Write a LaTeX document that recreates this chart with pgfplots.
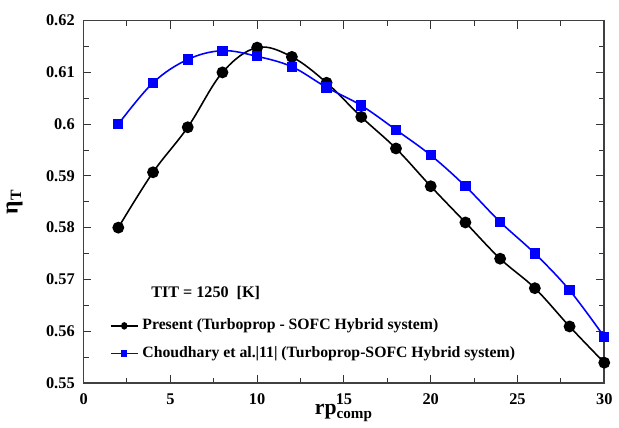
\documentclass[border=0pt]{standalone}
\usepackage{pgfplots}
\pgfplotsset{compat=1.18}
\usepackage{fontspec}
\setmainfont{Liberation Serif}

\pgfplotstableread{
x y
2 0.5800
4 0.5907
6 0.5994
8 0.6100
10 0.6148
12 0.6130
14 0.6080
16 0.6014
18 0.5953
20 0.5880
22 0.5810
24 0.5740
26 0.5683
28 0.5609
30 0.5539
}\present

\pgfplotstableread{
x y
2 0.6000
4 0.6080
6 0.6125
8 0.6142
10 0.6131
12 0.6111
14 0.6071
16 0.6036
18 0.5989
20 0.5940
22 0.5880
24 0.5811
26 0.5750
28 0.5679
30 0.5589
}\choudhary

\begin{document}
\begin{tikzpicture}
\begin{axis}[
    scale only axis,
    width=264.5pt, height=184pt,
    xmin=0, xmax=30, ymin=0.55, ymax=0.62,
    xtick={0,5,...,30},
    ytick={0.55,0.56,...,0.621},
    minor x tick num=1,
    minor y tick num=1,
    tick align=inside,
    major tick length=4pt,
    minor tick length=2.5pt,
    axis line style={black!75, line width=0.8pt},
    every tick/.style={black!80, line width=0.5pt},
    /pgf/number format/assume math mode=true,
    /pgf/number format/.cd, fixed, precision=2, /pgfplots/.cd,
    ticklabel style={font=\fontsize{8.3}{10}\selectfont\bfseries},
    yticklabel style={xshift=-1pt},
    xticklabel style={yshift=-2pt},
    xlabel={\textbf{rp\textsubscript{comp}}},
    xlabel style={font=\fontsize{11}{12}\selectfont, yshift=7pt},
    ylabel={η\textsubscript{T}},
    ylabel style={font=\fontsize{12}{13}\selectfont\bfseries, yshift=5pt},
    legend cell align=left,
    legend style={at={(0.05,0.05)}, anchor=south west, draw=none, fill=none,
        font=\fontsize{8}{9}\selectfont\bfseries, row sep=3pt,
        inner sep=0pt},
    legend image post style={xscale=0.8, mark size=1.5pt},
]
\coordinate (tl) at (rel axis cs:0,1);
\addplot[black, line width=0.8pt, smooth, tension=0.6, mark=*, mark size=2.6pt,
    mark options={fill=black}] table {\present};
\addlegendentry{Present (Turboprop - SOFC Hybrid system)}
\addplot[blue, line width=0.8pt, smooth, tension=0.6, mark=square*, mark size=2.2pt,
    mark options={fill=blue}] table {\choudhary};
\addlegendentry{Choudhary et al.|11| (Turboprop-SOFC Hybrid system)}
\node[anchor=west, font=\fontsize{8.2}{10}\selectfont\bfseries] at (axis cs:3.5,0.5673) {TIT = 1250~~[K]};
\end{axis}
\path ([yshift=10.5pt]tl);
\end{tikzpicture}
\end{document}
